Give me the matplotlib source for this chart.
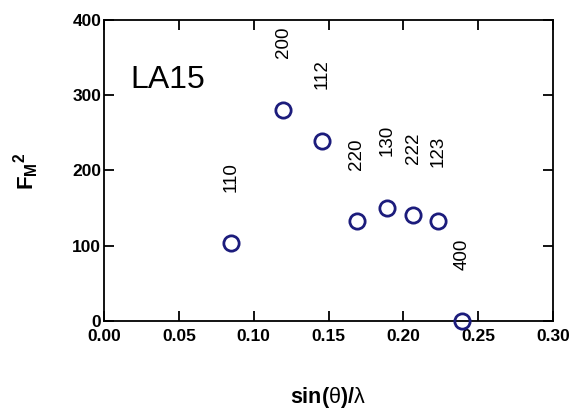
import matplotlib
matplotlib.use("Agg")
import matplotlib.pyplot as plt

plt.rcParams['font.family'] = ['Liberation Sans', 'DejaVu Sans']
plt.rcParams['mathtext.fontset'] = 'custom'
plt.rcParams['mathtext.rm'] = 'Liberation Sans'
plt.rcParams['mathtext.bf'] = 'Liberation Sans:bold'
plt.rcParams['mathtext.it'] = 'Liberation Sans:italic'

hkl = ['110', '200', '112', '220', '130', '222', '123', '400']
sin_theta_lambda = [0.0849, 0.1196, 0.1457, 0.169, 0.189, 0.2065, 0.223, 0.239]
fm2 = [104, 280, 239, 133, 150, 141, 133, 0]
label_y = [191, 371, 328, 221, 240, 229, 225, 88]

fig = plt.figure(figsize=(5.73, 4.12), dpi=100)
ax = fig.add_axes([0.1815, 0.2209, 0.7836, 0.7306])

ax.plot(sin_theta_lambda, fm2, linestyle='none', marker='o', markersize=11,
        markerfacecolor='none', markeredgecolor='#1c1c7c', markeredgewidth=2,
        clip_on=False, zorder=5)

for lab, x, y in zip(hkl, sin_theta_lambda, label_y):
    ax.text(x, y, lab, rotation=90, ha='center', va='center', fontsize=13.5)

ax.text(0.0174, 320, 'LA15', fontsize=23, ha='left', va='center')

ax.set_xlim(0, 0.30)
ax.set_ylim(0, 400)
ax.set_xticks([0.00, 0.05, 0.10, 0.15, 0.20, 0.25, 0.30])
ax.set_xticklabels(['0.00', '0.05', '0.10', '0.15', '0.20', '0.25', '0.30'])
ax.set_yticks([0, 100, 200, 300, 400])
ax.tick_params(direction='in', length=7, width=1.3, top=True, right=True,
               labelsize=12.5)
ax.tick_params(axis='x', pad=6)
ax.tick_params(axis='y', pad=2)
for lbl in ax.get_xticklabels() + ax.get_yticklabels():
    lbl.set_fontweight('bold')
for s in ax.spines.values():
    s.set_linewidth(1.3)

fig.text(0.572, 0.034, r'sin($\mathrm{\theta}$)/$\mathrm{\lambda}$', fontsize=15.5,
         fontweight='bold', ha='center', va='center')
fig.text(0.045, 0.585, r'$\mathbf{F_M}^{\mathbf{2}}$', fontsize=16, rotation=90,
         ha='center', va='center')

fig.savefig('out.png', dpi=100)
